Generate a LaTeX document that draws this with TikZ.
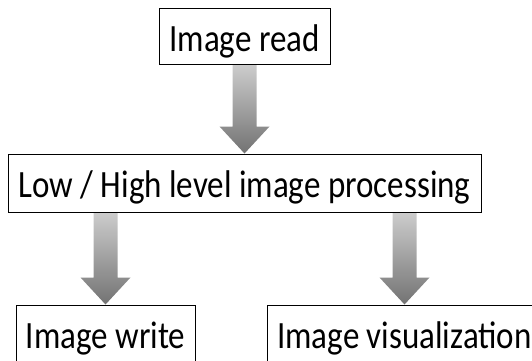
\documentclass[tikz,border=0pt]{standalone}
\usepackage{fontspec}
\setmainfont{Carlito}
\usetikzlibrary{calc}

\tikzset{
    stage/.style={draw=black, line width=1pt, fill=white, inner sep=0pt,
        text height=43pt, text depth=13pt, font=\fontsize{33}{40}\selectfont},
    flow/.style={top color=black!20, bottom color=black!55},
}
% the text of a stage, set a little taller than wide
\newcommand{\stagetext}[1]{\scalebox{1}[1.17]{#1}}
% grey block arrow from one point straight down to another
\newcommand{\flowarrow}[2]{%
    \shade[flow] let \p1=(#1), \p2=(#2) in
        (\x1-12pt,\y1-0.5pt) -- (\x1+12pt,\y1-0.5pt) -- (\x1+12pt,\y2+27pt)
        -- (\x1+25pt,\y2+27pt) -- (\x1,\y2) -- (\x1-25pt,\y2+27pt)
        -- (\x1-12pt,\y2+27pt) -- cycle;}

\begin{document}
\begin{tikzpicture}[x=1pt, y=-1pt]
    \clip (0,0) rectangle (532,360);

    % processing stages
    \node[stage, minimum width=171pt] (read) at (244.5,36) {\stagetext{Image read}};
    \node[stage, minimum width=473pt, text depth=15pt] (proc) at (244.5,183)
        {\stagetext{Low / High level image processing}};
    \node[stage, minimum width=179pt] (write) at (105.5,333) {\stagetext{Image write}};
    \node[stage, minimum width=275pt] (vis) at (404.5,333) {\stagetext{Image visualization}};

    % flow between the stages
    \flowarrow{read.south}{proc.north}
    \flowarrow{proc.south -| write.north}{write.north}
    \flowarrow{proc.south -| vis.north}{vis.north}

\end{tikzpicture}
\end{document}
